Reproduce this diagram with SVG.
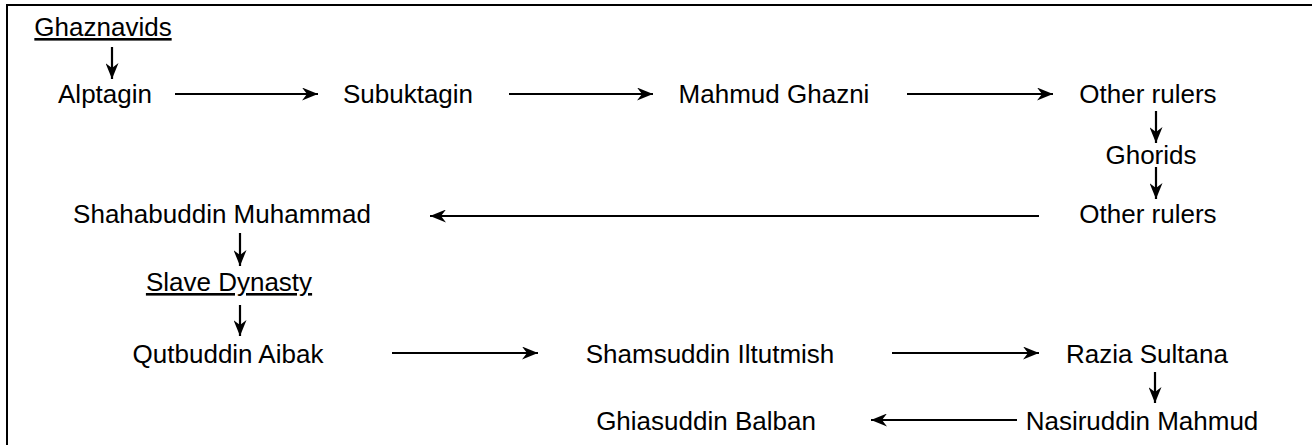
<svg xmlns="http://www.w3.org/2000/svg" width="1312" height="445" viewBox="0 0 1312 445">
<style>
  .t { font-family: "Liberation Sans", Arial, Helvetica, sans-serif; font-size: 26px; fill: #000; text-anchor: middle; }
  .u { text-decoration: underline; }
  .c { stroke: #000; stroke-width: 2.2; fill: none; marker-end: url(#ah); }
</style>
<defs>
  <marker id="ah" viewBox="0 0 16 13" refX="16" refY="6.5" markerWidth="16" markerHeight="13" orient="auto" markerUnits="userSpaceOnUse">
    <path d="M0,0 L16,6.5 L0,13 L5,6.5 Z" fill="#000"/>
  </marker>
</defs>
<rect x="0" y="0" width="1312" height="445" fill="#fff"/>
<path d="M7,445 L7,5 L1312,5" stroke="#000" stroke-width="2" fill="none"/>
<g id="connectors">
  <line class="c" x1="112" y1="47" x2="112" y2="79"/>
  <line class="c" x1="175" y1="94" x2="318" y2="94"/>
  <line class="c" x1="509" y1="94" x2="653" y2="94"/>
  <line class="c" x1="907" y1="94" x2="1053" y2="94"/>
  <line class="c" x1="1156" y1="111" x2="1156" y2="143"/>
  <line class="c" x1="1156" y1="167" x2="1156" y2="199"/>
  <line class="c" x1="1039" y1="216" x2="430" y2="216"/>
  <line class="c" x1="240" y1="233" x2="240" y2="266"/>
  <line class="c" x1="240" y1="305" x2="240" y2="336"/>
  <line class="c" x1="392" y1="353" x2="538" y2="353"/>
  <line class="c" x1="892" y1="353" x2="1039" y2="353"/>
  <line class="c" x1="1155" y1="372" x2="1155" y2="403"/>
  <line class="c" x1="1017" y1="420" x2="871" y2="420"/>
</g>
<g id="n-ghaznavids"><text class="t u" x="103" y="36">Ghaznavids</text></g>
<g id="n-alptagin"><text class="t" x="105" y="103">Alptagin</text></g>
<g id="n-subuktagin"><text class="t" x="408" y="103">Subuktagin</text></g>
<g id="n-mahmud-ghazni"><text class="t" x="774" y="103">Mahmud Ghazni</text></g>
<g id="n-other-rulers-1"><text class="t" x="1148" y="103">Other rulers</text></g>
<g id="n-ghorids"><text class="t" x="1151" y="164">Ghorids</text></g>
<g id="n-other-rulers-2"><text class="t" x="1148" y="223">Other rulers</text></g>
<g id="n-shahabuddin"><text class="t" x="222" y="223">Shahabuddin Muhammad</text></g>
<g id="n-slave-dynasty"><text class="t u" x="229" y="291">Slave Dynasty</text></g>
<g id="n-qutbuddin"><text class="t" x="228" y="363">Qutbuddin Aibak</text></g>
<g id="n-shamsuddin"><text class="t" x="710" y="363">Shamsuddin Iltutmish</text></g>
<g id="n-razia"><text class="t" x="1147" y="363">Razia Sultana</text></g>
<g id="n-nasiruddin"><text class="t" x="1142" y="430">Nasiruddin Mahmud</text></g>
<g id="n-ghiasuddin"><text class="t" x="706" y="430">Ghiasuddin Balban</text></g>
</svg>
